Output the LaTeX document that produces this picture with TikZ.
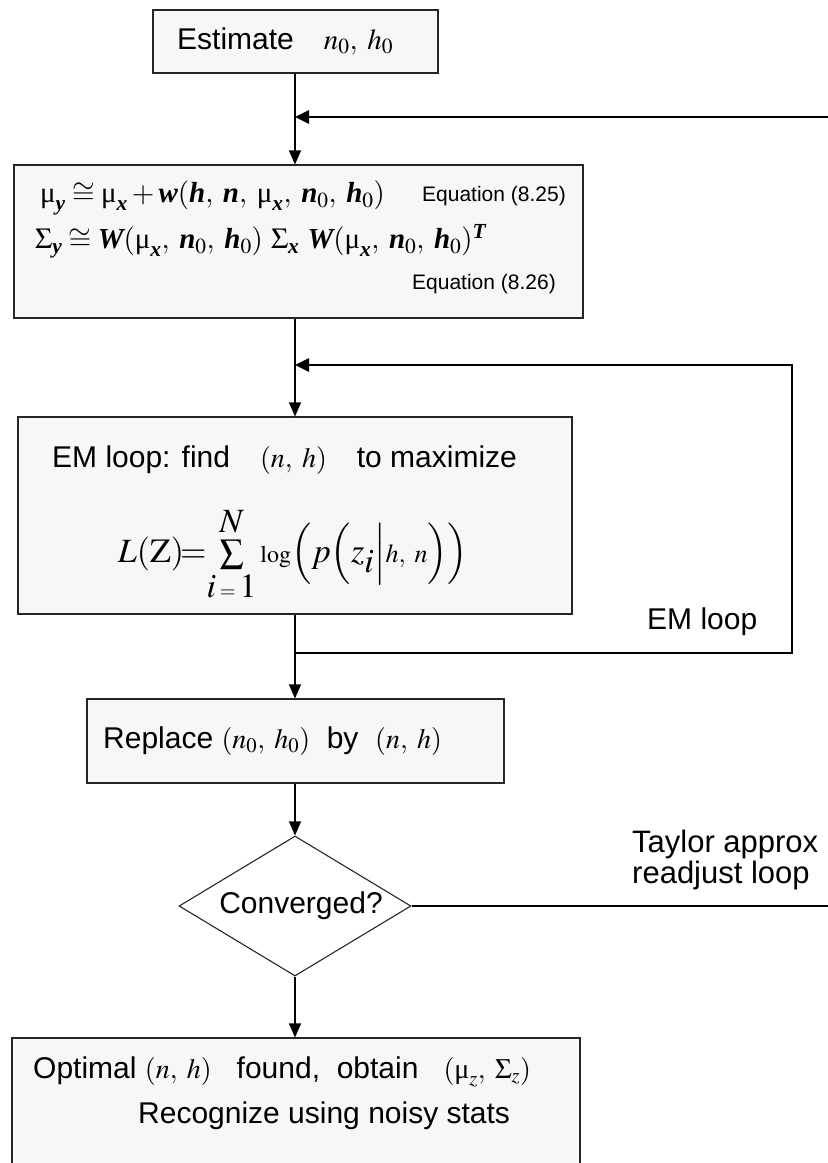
\documentclass[tikz,border=0pt]{standalone}
\usepackage{amsmath}
\usepackage{mathptmx}
\usepackage[no-math]{fontspec}
\setmainfont{Liberation Sans}
\newfontfamily\tms{Liberation Serif}
\usetikzlibrary{arrows.meta,shapes.geometric}
\newcommand\upm[1]{\text{\tms\upshape\mdseries #1}}
\newcommand\bit[1]{\text{\tms\bfseries\itshape #1}}
\newcommand\cm{,\;}
\tikzset{
  box/.style={draw=black!85, line width=1.1pt, fill=black!3, inner sep=0pt},
  txt/.style={font=\fontsize{30}{36}\selectfont, inner sep=0pt},
  small/.style={font=\fontsize{21}{25}\selectfont, inner sep=0pt},
  eq/.style={font=\fontsize{29}{34}\selectfont, inner sep=0pt},
  arr/.style={line width=1.2pt, -{Triangle[length=14pt,width=12pt]}},
  fb/.style={line width=2.6pt},
  fbarr/.style={line width=2.6pt, -{Triangle[length=14pt,width=13pt]}},
}
\begin{document}
\begin{tikzpicture}[x=1pt,y=-1pt]
\useasboundingbox (0,0) rectangle (828,1163);
% boxes
\node[box, minimum width=285pt, minimum height=63pt] (est) at (295.5,41.5) {};
\node[box, minimum width=569pt, minimum height=153pt] (lin) at (298.5,241.5) {};
\node[box, minimum width=554pt, minimum height=197pt] (em) at (295,515.5) {};
\node[box, minimum width=417pt, minimum height=84pt] (rep) at (295.5,741) {};
\node[draw=black!85, line width=1.1pt, diamond, aspect=1.657, minimum width=232pt, minimum height=140pt, inner sep=0pt] (conv) at (295,906) {};
\node[box, minimum width=568pt, minimum height=162pt] (opt) at (296,1119) {};
% box texts
\node[txt, anchor=west] (estt) at (177,41)
  {Estimate\quad {\fontsize{29}{34}\selectfont$n_0\cm h_0$}};
\node[eq, anchor=west] (eq1) at (40,198)
  {$\upm{μ}_{\bit{y}} \cong \upm{μ}_{\bit{x}} + \bit{w}(\bit{h}\cm \bit{n}\cm \upm{μ}_{\bit{x}}\cm \bit{n}_0\cm \bit{h}_0)$};
\node[small, anchor=west] (lab1) at (422,196) {Equation (8.25)};
\node[eq, anchor=west] (eq2) at (35,241)
  {$\Sigma_{\bit{y}} \cong \bit{W}(\upm{μ}_{\bit{x}}\cm \bit{n}_0\cm \bit{h}_0)\ \Sigma_{\bit{x}}\ \bit{W}(\upm{μ}_{\bit{x}}\cm \bit{n}_0\cm \bit{h}_0)^{\bit{T}}$};
\node[small, anchor=east] (lab2) at (556,284) {Equation (8.26)};
\node[txt, anchor=west] (emt) at (52,460)
  {EM loop: find\quad {\fontsize{28}{32}\selectfont$(n\cm h)$}\quad to maximize};
\node[inner sep=0pt, font=\fontsize{34}{40}\selectfont] (sum) at (293,554)
  {$L(\mathrm{Z})\!{=}\!\mathop{\textstyle\sum}\limits_{\textstyle i\,{\scriptscriptstyle=}\,1}^{\textstyle N} \text{\fontsize{24}{28}\selectfont$\log$}\Bigl(p\Bigl(z_{\textstyle i}\Big|\text{\fontsize{26}{30}\selectfont$h\cm n$}\Bigr)\Bigr)$};
\node[txt, anchor=west] (rept) at (103,741)
  {Replace {\fontsize{28}{32}\selectfont$(n_0\cm h_0)$}\ \ by\ \ {\fontsize{28}{32}\selectfont$(n\cm h)$}};
\node[txt] (convt) at (301,906) {Converged?};
\node[txt, anchor=west] (o1) at (33,1072)
  {Optimal {\fontsize{28}{32}\selectfont$(n\cm h)$}\ \ \ found,\ \ obtain\ \ \ {\fontsize{28}{32}\selectfont$(\upm{μ}_z\cm \Sigma_z)$}};
\node[txt, anchor=west] (o2) at (138,1116) {Recognize using noisy stats};
% loop labels
\node[txt, anchor=west] (eml) at (647,622) {EM loop};
\node[txt, align=left, anchor=west, font=\fontsize{31}{31}\selectfont] (tay) at (632,860) {Taylor approx\\readjust loop};
% coordinates
\coordinate (t1) at (295,117);
\coordinate (t2) at (828,117);
\coordinate (e1) at (295,365);
\coordinate (e2) at (792,365);
\coordinate (e3) at (792,653);
\coordinate (e4) at (295,653);
\coordinate (c2) at (828,906);
% connectors
\draw[arr] (est.south -| t1) -- (lin.north -| t1);
\draw[fbarr] (t2) -- (t1);
\draw[arr] (lin.south -| e1) -- (em.north -| e1);
\draw[fbarr] (e4) -- (e3) -- (e2) -- (e1);
\draw[line width=1.2pt] (em.south -| e4) -- (e4);
\draw[arr] (e4) -- (rep.north -| e4);
\draw[arr] (rep.south -| conv.north) -- (conv.north);
\draw[fb] (conv.east) -- (c2);
\draw[arr] (conv.south) -- (opt.north -| conv.south);
\end{tikzpicture}
\end{document}
